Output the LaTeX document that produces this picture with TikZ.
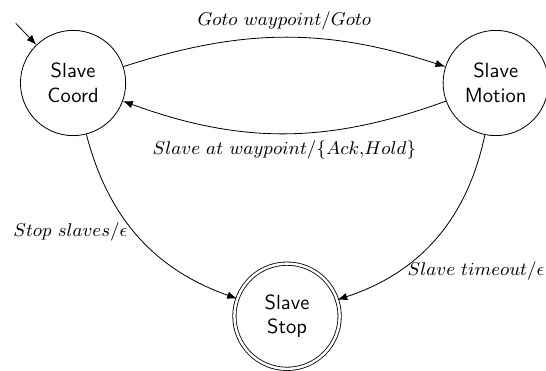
\documentclass[tikz,border=0pt]{standalone}
\usepackage{amsmath}
\usepackage{amssymb}
\usetikzlibrary{arrows.meta}

\begin{document}
\begin{tikzpicture}[>={Latex}, bend angle=20,
  state/.style = {shape=circle, draw, align=center, minimum size=1.8cm, inner sep=0pt, font=\sffamily},
  trans/.style = {font=\fontsize{8.7}{10}\selectfont}]
  \useasboundingbox (0,0) rectangle (9.34,6.33);
  \node[state] (coord) at (1.25,4.91) {Slave\\Coord};
  \node[state] (motion) at (8.48,4.91) {Slave\\Motion};
  \node[state, double, double distance=1.2pt] (stop) at (4.91,0.92) {Slave\\Stop};
  \coordinate (start) at (0.27,5.93);
  \draw[->] (start) -- (coord);
  \path[->] (coord) edge[bend left=18] node[trans, above] {$Goto~waypoint/Goto$} (motion)
    (motion) edge[bend left] node[trans, below] {$Slave~at~waypoint/\{Ack{,}Hold\}$} (coord)
    (coord) edge[bend right=28] node[trans, left, pos=0.47] {$Stop~slaves/\epsilon$} (stop)
    (motion) edge[bend left=30] node[trans, right, pos=0.72, xshift=1pt] {$Slave~timeout/\epsilon$} (stop);
\end{tikzpicture}
\end{document}
